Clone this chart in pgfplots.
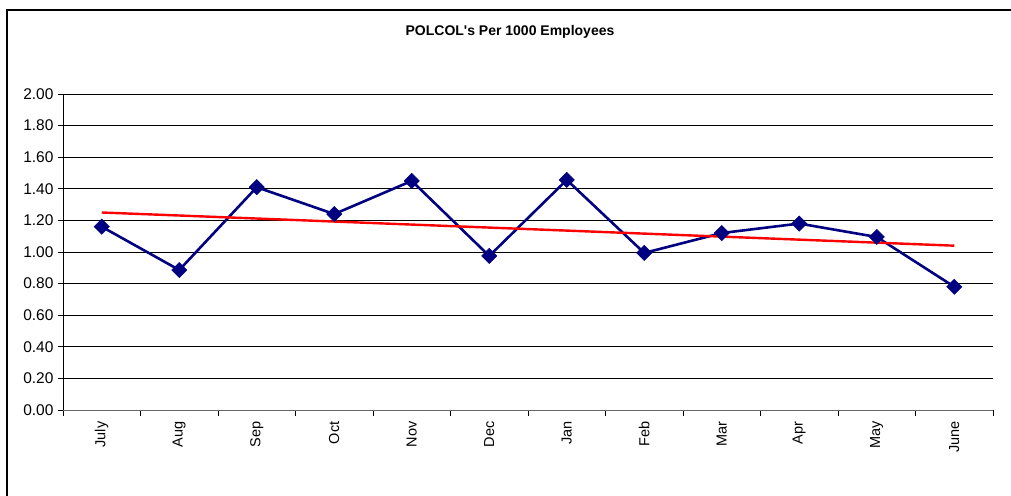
\documentclass[border=0pt]{standalone}
\usepackage{pgfplots}
\pgfplotsset{compat=1.18}
\usepackage{fontspec}
\setmainfont{Liberation Sans}
\definecolor{navy}{RGB}{0,0,128}
\begin{document}
\begin{tikzpicture}[x=1pt,y=1pt]
\path[use as bounding box] (0,0) rectangle (1011,495);
\draw[line width=2pt,black] (7,-5) -- (7,485) -- (1020,485);
\node[font=\fontsize{14}{16}\selectfont\bfseries] at (510,463) {POLCOL\textquotesingle s Per 1000 Employees};
\begin{axis}[
  at={(63pt,85pt)}, anchor=south west,
  width=930pt, height=316pt, scale only axis,
  xmin=-0.5, xmax=11.5, ymin=0, ymax=2,
  axis x line*=bottom, axis y line*=left,
  x axis line style={gray!80!black,-},
  y axis line style={black,-},
  ytick={0,0.2,...,2.0},
  yticklabel style={/pgf/number format/fixed, /pgf/number format/fixed zerofill, /pgf/number format/precision=2, font=\fontsize{15.5}{17}\selectfont},
  /pgf/number format/assume math mode=true,
  ymajorgrids, grid style={black, line width=0.8pt},
  xtick={0,...,11},
  xticklabels={July,Aug,Sep,Oct,Nov,Dec,Jan,Feb,Mar,Apr,May,June},
  xticklabel style={rotate=90, anchor=east, font=\fontsize{14.5}{16}\selectfont},
  major x tick style={draw=none},
  minor xtick={-0.5,0.5,...,11.5},
  minor x tick style={black, line width=0.6pt},
  tick align=outside,
  major tick length=5pt, minor tick length=6pt,
  ytick style={black, line width=0.6pt},
  xticklabel shift=3pt,
  yticklabel shift=1pt,
  clip=false,
]
\addplot[navy, line width=2.6pt, mark=square*, mark size=5.4pt, mark options={rotate=45, fill=navy, draw=navy, line width=0.5pt}] coordinates {
(0,1.16) (1,0.886) (2,1.41) (3,1.24) (4,1.45) (5,0.975) (6,1.456) (7,0.994) (8,1.12) (9,1.18) (10,1.095) (11,0.78)
};
\addplot[red, line width=2.4pt] coordinates {(0,1.25) (11,1.04)};
\end{axis}
\end{tikzpicture}
\end{document}
